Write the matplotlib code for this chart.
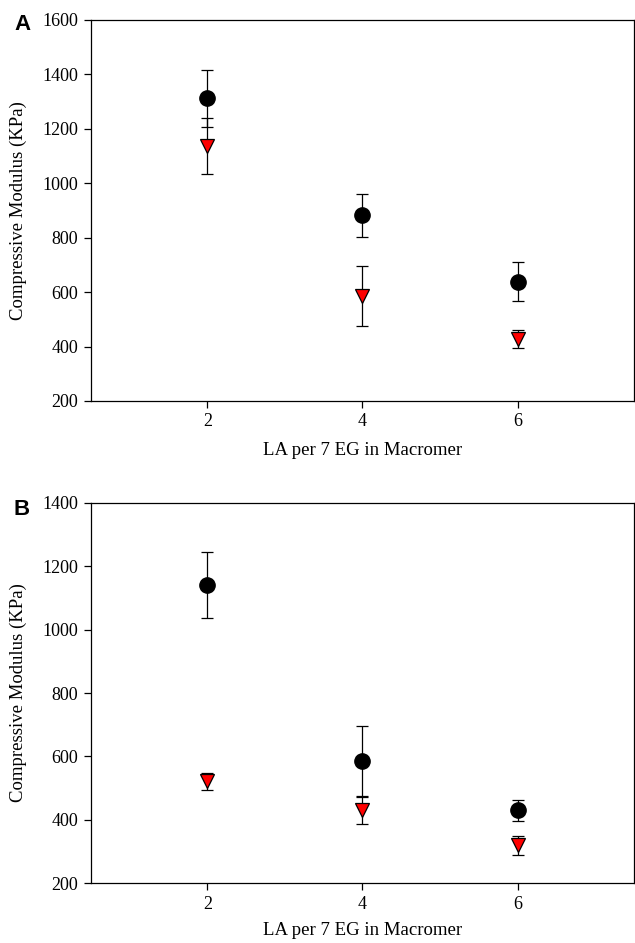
import matplotlib
matplotlib.use("Agg")
import matplotlib.pyplot as plt

# LA per 7 EG in macromer
la_ratio = [2, 4, 6]

# panel A
a_circle = [1313, 882, 638]
a_circle_err = [105, 80, 72]
a_tri = [1137, 585, 428]
a_tri_err = [103, 110, 33]

# panel B
b_circle = [1140, 585, 430]
b_circle_err = [104, 110, 33]
b_tri = [522, 430, 320]
b_tri_err = [27, 43, 30]

plt.rcParams['font.family'] = ['Liberation Serif', 'DejaVu Serif']

fig = plt.figure(figsize=(6.35, 9.43), dpi=100)
ax_a = fig.add_axes([0.1433, 0.5748, 0.855, 0.404])
ax_b = fig.add_axes([0.1433, 0.0636, 0.855, 0.403])


def draw_panel(ax, circ, circ_err, tri, tri_err, ylim, yticks, letter,
               letter_y, xlabel_y):
    ax.errorbar(la_ratio, circ, yerr=circ_err, fmt='o', color='black',
                ms=11, mec='black', ecolor='black', elinewidth=0.9,
                capsize=4.5, capthick=0.9, zorder=3)
    ax.errorbar(la_ratio, tri, yerr=tri_err, fmt='v', mfc='red',
                mec='black', mew=0.9, ms=10.5, ecolor='black',
                elinewidth=0.9, capsize=4.5, capthick=0.9, zorder=3)
    ax.set_xlim(0.5, 7.5)
    ax.set_ylim(*ylim)
    ax.set_xticks(la_ratio)
    ax.set_yticks(yticks)
    ax.tick_params(direction='out', length=5, width=0.9, labelsize=13,
                   top=False, right=False, pad=4)
    for s in ax.spines.values():
        s.set_linewidth(0.9)
    ax.set_xlabel('LA per 7 EG in Macromer', fontsize=13.5)
    ax.set_ylabel('Compressive Modulus (KPa)', fontsize=13.5)
    ax.xaxis.set_label_coords(0.5, xlabel_y)
    ax.yaxis.set_label_coords(-0.118, 0.5)
    ax.text(-0.127, letter_y, letter, transform=ax.transAxes, fontsize=16,
            fontweight='bold', family='Liberation Sans', ha='center',
            va='center')


draw_panel(ax_a, a_circle, a_circle_err, a_tri, a_tri_err,
           (200, 1600), range(200, 1601, 200), 'A', 0.987, -0.108)
draw_panel(ax_b, b_circle, b_circle_err, b_tri, b_tri_err,
           (200, 1400), range(200, 1401, 200), 'B', 0.982, -0.102)

fig.savefig('out.png', dpi=100)
